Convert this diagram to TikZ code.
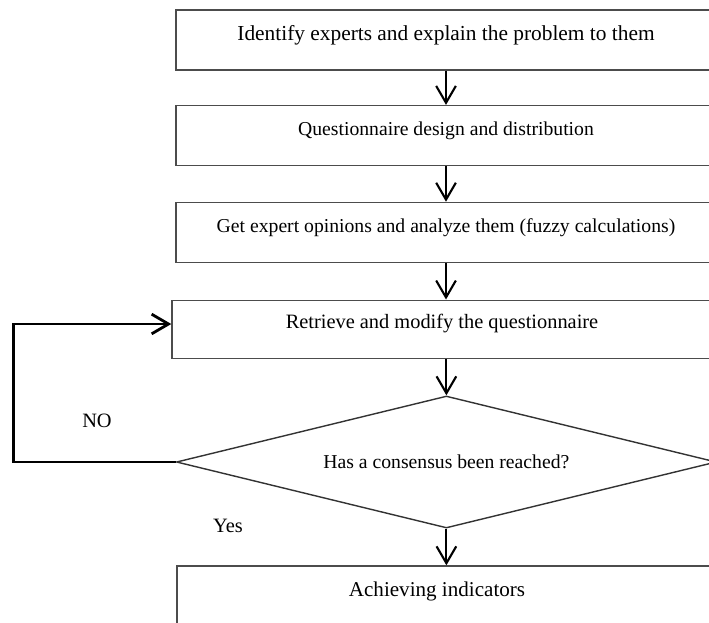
\documentclass[tikz,border=0pt]{standalone}
\usepackage{fontspec}
\setmainfont{Liberation Serif}
\usetikzlibrary{arrows.meta,shapes.geometric,positioning}

\begin{document}
\begin{tikzpicture}[thick,
	block/.style={rectangle,draw=black!70,line width=1pt,inner sep=0pt,minimum width=13.5cm,text height=0.75cm,text depth=0.75cm,font=\fontsize{14.5}{16}\selectfont},
	decision/.style={diamond,draw=black!80,line width=1pt,inner sep=0pt,aspect=4,minimum width=13.5cm,minimum height=3.3cm,font=\fontsize{14}{16}\selectfont},
	flow/.style={-{Straight Barb[length=12pt,width=14pt]},line width=1.5pt},
	label/.style={font=\fontsize{14.5}{16}\selectfont}]

	\useasboundingbox (0,0) rectangle (17.725,-15.55);

	% The steps
	\node [block,font=\fontsize{15.2}{17}\selectfont] at (11.15,-1.0) (b1) {Identify experts and explain the problem to them};
	\node [block,font=\fontsize{14}{16}\selectfont] at (11.15,-3.39) (b2) {Questionnaire design and distribution};
	\node [block,font=\fontsize{14}{16}\selectfont] at (11.15,-5.81) (b3) {Get expert opinions and analyze them (fuzzy calculations)};
	\node [block,text height=0.7cm,text depth=0.75cm] at (11.05,-8.23) (b4) {Retrieve and modify the questionnaire};
	\node [decision] at (11.16,-11.55) (dec) {Has a consensus been reached?};
	\node [block,font=\fontsize{15}{17}\selectfont] at (11.175,-14.9) (b5) {\hspace*{-0.5cm}Achieving indicators};

	% Labels
	\node [label] at (2.425,-10.53) (no) {NO};
	\node [label] at (5.7,-13.15) (yes) {Yes};

	% Arrows
	\draw[flow] (b1.south) -- (b2.north);
	\draw[flow] (b2.south) -- (b3.north);
	\draw[flow] (b3.south) -- (b4.north -| b3.south);
	\draw[flow] (b4.south -| dec.north) -- (dec.north);
	\draw[flow] (dec.south) -- (b5.north -| dec.south);

	% Back to the questionnaire
	\coordinate (loop) at (0.33,-8.1);
	\draw[flow,line width=2pt] (dec.west) -| (loop) -- (loop -| b4.west);

\end{tikzpicture}
\end{document}
